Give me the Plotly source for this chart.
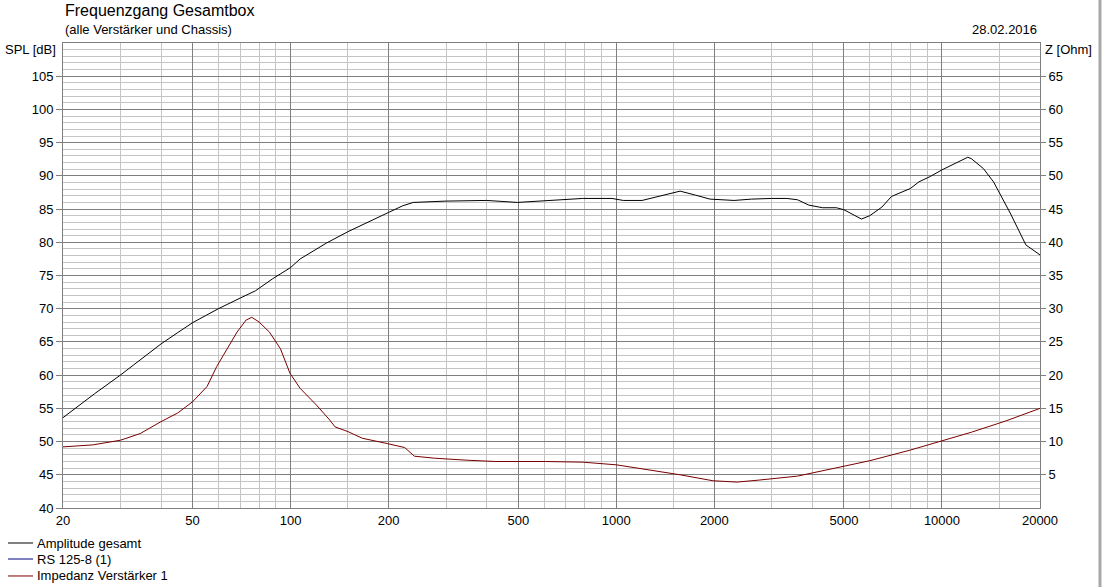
import plotly.graph_objects as go

# ---------------- data ----------------
freq_spl = [20, 25, 30, 35, 40, 45, 50, 55, 60, 70, 78, 88, 100, 107, 129, 150, 175, 200,
            221, 238, 300, 400, 497, 573, 641, 789, 970, 1050, 1200, 1400, 1570, 1750, 1940,
            2300, 2600, 3000, 3340, 3600, 3900, 4300, 4740, 5000, 5300, 5660, 6000, 6540,
            7000, 8000, 8500, 9200, 10000, 12000, 12300, 13400, 14400, 16200, 18100, 20000]
spl_total = [53.6, 57.2, 60.0, 62.5, 64.7, 66.4, 67.9, 69.0, 70.0, 71.6, 72.7, 74.5, 76.2,
             77.5, 79.9, 81.6, 83.1, 84.5, 85.5, 86.0, 86.2, 86.3, 86.0, 86.2, 86.4, 86.6,
             86.6, 86.3, 86.3, 87.1, 87.7, 87.1, 86.5, 86.3, 86.5, 86.6, 86.6, 86.4, 85.6,
             85.2, 85.2, 84.9, 84.2, 83.5, 84.0, 85.3, 86.9, 88.1, 89.1, 89.9, 90.9, 92.8,
             92.6, 91.1, 89.1, 84.4, 79.6, 78.1]

freq_z = [20, 24.7, 30, 34.5, 40, 45, 50, 55.4, 59.3, 64, 68.5, 73, 76, 80, 86, 93, 99.5,
          107, 120, 131, 137, 150, 166, 198, 224, 240, 276, 346, 427, 606, 789, 1000, 1464,
          1570, 1980, 2350, 2740, 3600, 4020, 4970, 5980, 7970, 9840, 12300, 15700, 18000,
          20000]
impedance = [9.2, 9.5, 10.2, 11.2, 13.0, 14.3, 16.0, 18.3, 21.3, 24.0, 26.5, 28.3, 28.7,
             28.0, 26.5, 24.0, 20.3, 18.0, 15.5, 13.4, 12.2, 11.5, 10.5, 9.7, 9.1, 7.8, 7.5,
             7.2, 7.0, 7.0, 6.9, 6.5, 5.3, 5.0, 4.1, 3.9, 4.2, 4.8, 5.3, 6.2, 7.1, 8.7, 10.0,
             11.4, 13.1, 14.2, 15.0]

x_major = [20, 50, 100, 200, 500, 1000, 2000, 5000, 10000, 20000]
x_labels = ["20", "50", "100", "200", "500", "1000", "2000", "5000", "10000", "20000"]
x_minor = [30, 40, 60, 70, 80, 90, 150, 300, 400, 600, 700, 800, 900, 1500,
           3000, 4000, 6000, 7000, 8000, 9000, 15000]
spl_ticks = list(range(40, 110, 5))
ohm_ticks = list(range(5, 70, 5))

legend_names = ["Amplitude gesamt", "RS 125-8 (1)", "Impedanz Verstärker 1"]
legend_colors = ["#000000", "#000080", "#7a0000"]

FONT = "Liberation Sans, Arial, sans-serif"
MAJ = "#7f7f7f"
MIN = "#c4c4c4"

fig = go.Figure()
fig.add_trace(go.Scatter(x=freq_z, y=impedance, yaxis="y2", mode="lines",
                         line=dict(color=legend_colors[2], width=1), name=legend_names[2]))
fig.add_trace(go.Scatter(x=freq_spl, y=spl_total, mode="lines",
                         line=dict(color=legend_colors[0], width=1), name=legend_names[0]))

fig.update_layout(
    width=1110, height=587,
    margin=dict(l=63, r=70, t=43, b=79, pad=0, autoexpand=False),
    paper_bgcolor="white", plot_bgcolor="white",
    font=dict(family=FONT, size=13, color="black"),
    showlegend=False,
    xaxis=dict(type="log", range=[1.30103, 4.30103],
               tickvals=x_major, ticktext=x_labels, ticks="", showgrid=True,
               gridcolor=MAJ, gridwidth=1,
               minor=dict(tickvals=x_minor, showgrid=True, gridcolor=MIN, gridwidth=1, ticks=""),
               showline=True, linecolor=MAJ, linewidth=1, mirror=True,
               zeroline=False, tickfont=dict(size=13), automargin=False),
    yaxis=dict(range=[40, 110], tickvals=spl_ticks, ticks="outside", ticklen=6,
               tickcolor=MAJ, showgrid=True, gridcolor=MAJ, gridwidth=1,
               minor=dict(dtick=1, tick0=40, showgrid=True, gridcolor=MIN, gridwidth=1, ticks=""),
               showline=True, linecolor=MAJ, linewidth=1, mirror=True, zeroline=False,
               tickfont=dict(size=13), automargin=False),
    yaxis2=dict(range=[0, 70], overlaying="y", side="right", tickvals=ohm_ticks,
                ticks="outside", ticklen=5, tickcolor=MAJ, showgrid=False, zeroline=False,
                showline=True, linecolor=MAJ, linewidth=1, ticklabelstandoff=0,
                tickfont=dict(size=13), automargin=False),
)

annots = [
    dict(text="Frequenzgang Gesamtbox", x=0, y=1.069, xanchor="left", yanchor="middle",
         font=dict(size=16)),
    dict(text="(alle Verstärker und Chassis)", x=0, y=1.030, xanchor="left", yanchor="middle",
         font=dict(size=13)),
    dict(text="28.02.2016", x=0.999, y=1.030, xanchor="right", yanchor="middle",
         font=dict(size=13)),
    dict(text="SPL [dB]", x=-0.005, y=0.987, xanchor="right", yanchor="middle",
         font=dict(size=13)),
    dict(text="Z [Ohm]", x=1.003, y=0.987, xanchor="left", yanchor="middle",
         font=dict(size=13)),
]
for a in annots:
    fig.add_annotation(xref="paper", yref="paper", showarrow=False, **a)

# legend drawn below the plot (lines + real text)
leg_y = [-0.0753, -0.1097, -0.1462]
for name, col, yy in zip(legend_names, legend_colors, leg_y):
    fig.add_shape(type="line", xref="paper", yref="paper", x0=-0.0563, x1=-0.0307,
                  y0=yy, y1=yy, line=dict(color=col, width=1))
    fig.add_annotation(xref="paper", yref="paper", showarrow=False, text=name,
                       x=-0.0285, y=yy, xanchor="left", yanchor="middle",
                       font=dict(size=13))

fig.add_shape(type="line", xref="paper", yref="paper", x0=1.0614, x1=1.0614,
              y0=-0.17, y1=1.093, line=dict(color="#a8a8a8", width=3))

fig.write_html("out.html", config={"displayModeBar": False},
               post_script="document.body.style.margin='0px';document.body.style.overflow='hidden';")
